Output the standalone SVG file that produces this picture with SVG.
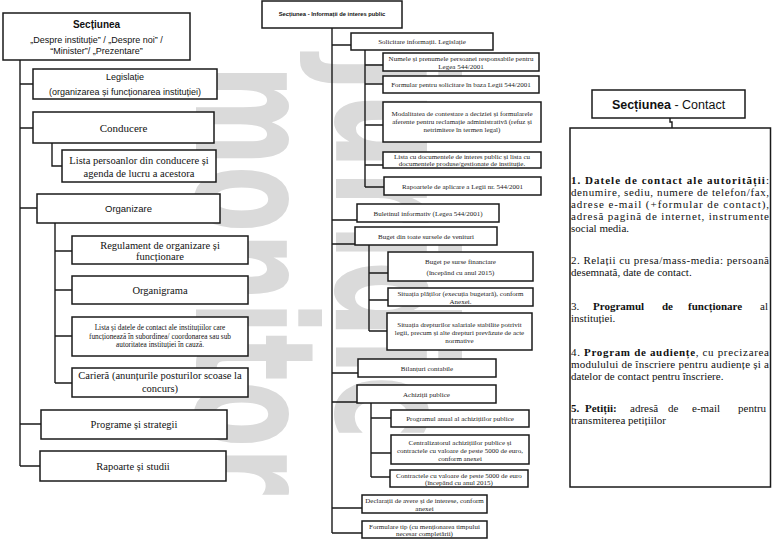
<svg xmlns="http://www.w3.org/2000/svg" width="772" height="540" viewBox="0 0 772 540">
<style>
.bx{fill:#fff;stroke:#1a1a1a;stroke-width:1.5}
.ln{fill:none;stroke:#1a1a1a;stroke-width:1.4}
.wm{font-family:"DejaVu Sans",sans-serif;font-weight:bold;fill:#dadada}
.sa{font-family:"Liberation Sans",Arial,sans-serif;fill:#111;text-anchor:middle}
.se{font-family:"Liberation Serif","Times New Roman",serif;fill:#111;text-anchor:middle}
.m7{font-family:"Liberation Serif","Times New Roman",serif;font-size:7px;fill:#222;text-anchor:middle}
.rt{font-family:"Liberation Serif","Times New Roman",serif;font-size:11px;fill:#111}
.b{font-weight:bold}
</style>
<rect width="772" height="540" fill="#fff"/>
<!-- watermark -->
<g id="watermark">
<text class="wm" font-size="165" transform="translate(196,65) rotate(90)" textLength="430" lengthAdjust="spacingAndGlyphs">monitor</text>
<text class="wm" font-size="165" transform="translate(336,55) rotate(90)" textLength="385" lengthAdjust="spacingAndGlyphs">juridic</text>
</g>
<!-- connectors -->
<g id="connectors">
<path class="ln" d="M20,60V466M20,84H33M20,128H33M20,208H37M20,424H41M20,466H40"/>
<path class="ln" d="M52,143V166H62"/>
<path class="ln" d="M55,223V383M55,251H72M55,290H72M55,336H72M55,383H72"/>
<path class="ln" d="M332,28V533M332,45H351M332,220H357M332,244H355M332,373H358M332,402H357M332,508H362M332,533H362"/>
<path class="ln" d="M365,50V187M365,65H383M365,84H383M365,125H383M365,165H383M365,187H384"/>
<path class="ln" d="M369,245V331M369,273H388M369,300H388M369,331H387"/>
<path class="ln" d="M371,403V477M371,418H391M371,453H391M371,477H390"/>
<path class="ln" d="M670,118V122H672V128"/>
</g>
<!-- left column -->
<g id="n-sectiunea">
<rect class="bx" x="3" y="13" width="187" height="47"/>
<text class="sa b" x="96.5" y="28" font-size="10">Secțiunea</text>
<text class="sa" x="96.5" y="43" font-size="9">„Despre instituție” / „Despre noi” /</text>
<text class="sa" x="96.5" y="54" font-size="9">“Minister”/ „Prezentare”</text>
</g>
<g id="n-legislatie">
<rect class="bx" x="33" y="69" width="184" height="30"/>
<text class="sa" x="125" y="80" font-size="9">Legislație</text>
<text class="sa" x="125" y="95" font-size="9">(organizarea și funcționarea instituției)</text>
</g>
<g id="n-conducere">
<rect class="bx" x="33" y="112" width="181" height="31"/>
<text class="se" x="123.5" y="131.5" font-size="11">Conducere</text>
</g>
<g id="n-lista-pers">
<rect class="bx" x="62" y="150" width="154" height="32"/>
<text class="se" x="139" y="164" font-size="10.5">Lista persoanlor din conducere și</text>
<text class="se" x="139" y="177" font-size="10.5">agenda de lucru a acestora</text>
</g>
<g id="n-organizare">
<rect class="bx" x="37" y="194" width="183" height="29"/>
<text class="sa" x="128.5" y="212" font-size="9.5">Organizare</text>
</g>
<g id="n-regulament">
<rect class="bx" x="72" y="236" width="176" height="28"/>
<text class="se" x="160" y="249" font-size="10.5">Regulament de organizare și</text>
<text class="se" x="160" y="260" font-size="10.5">funcționare</text>
</g>
<g id="n-organigrama">
<rect class="bx" x="72" y="276" width="176" height="28"/>
<text class="se" x="160" y="294" font-size="10.5">Organigrama</text>
</g>
<g id="n-lista-inst">
<rect class="bx" x="72" y="317" width="176" height="39"/>
<text class="se" x="160" y="330" font-size="7.3">Lista și datele de contact ale instituțiilor care</text>
<text class="se" x="160" y="338.5" font-size="7.3">funcționează în subordinea/ coordonarea sau sub</text>
<text class="se" x="160" y="347" font-size="7.3">autoritatea instituției în cauză.</text>
</g>
<g id="n-cariera">
<rect class="bx" x="72" y="368" width="176" height="29"/>
<text class="se" x="160" y="379" font-size="10.5">Carieră (anunțurile posturilor scoase la</text>
<text class="se" x="160" y="392" font-size="10.5">concurs)</text>
</g>
<g id="n-programe">
<rect class="bx" x="41" y="410" width="186" height="29"/>
<text class="se" x="134" y="428" font-size="10.5">Programe și strategii</text>
</g>
<g id="n-rapoarte">
<rect class="bx" x="40" y="451" width="186" height="30"/>
<text class="se" x="133" y="470" font-size="10.5">Rapoarte și studii</text>
</g>
<!-- middle column -->
<g id="n-info">
<rect class="bx" x="262" y="1" width="140" height="27"/>
<text class="sa b" x="332" y="16" font-size="5.8">Secțiunea - Informații de interes public</text>
</g>
<g id="n-solicitare">
<rect class="bx" x="351" y="33" width="142" height="17"/>
<text class="m7" x="422" y="44">Solicitare informații. Legislație</text>
</g>
<g id="n-numele">
<rect class="bx" x="383" y="53" width="156" height="18"/>
<text class="m7" x="461" y="61">Numele și prenumele persoanei responsabile pentru</text>
<text class="m7" x="461" y="68.5">Legea 544/2001</text>
</g>
<g id="n-formular">
<rect class="bx" x="383" y="76" width="156" height="17"/>
<text class="m7" x="461" y="87">Formular pentru solicitare în baza Legii 544/2001</text>
</g>
<g id="n-modalitatea">
<rect class="bx" x="383" y="102" width="158" height="40"/>
<text class="m7" x="462" y="116">Modalitatea de contestare a deciziei și formularele</text>
<text class="m7" x="462" y="124">aferente pentru reclamație administrativă (refuz și</text>
<text class="m7" x="462" y="132">netrimitere în termen legal)</text>
</g>
<g id="n-lista-doc">
<rect class="bx" x="383" y="152" width="158" height="16"/>
<text class="m7" x="462" y="159">Lista cu documentele de interes public și lista cu</text>
<text class="m7" x="462" y="166">documentele produse/gestionate de instituție.</text>
</g>
<g id="n-rapoartele">
<rect class="bx" x="384" y="177" width="157" height="18"/>
<text class="m7" x="462.5" y="188.5">Rapoartele de aplicare a Legii nr. 544/2001</text>
</g>
<g id="n-buletinul">
<rect class="bx" x="357" y="204" width="142" height="18"/>
<text class="m7" x="428" y="215.5">Buletinul informativ  (Legea 544/2001)</text>
</g>
<g id="n-buget">
<rect class="bx" x="355" y="227" width="142" height="18"/>
<text class="m7" x="426" y="238.5">Buget din toate sursele de venituri</text>
</g>
<g id="n-buget-surse">
<rect class="bx" x="388" y="252" width="145" height="29"/>
<text class="m7" x="460.5" y="263.5">Buget pe surse financiare</text>
<text class="m7" x="460.5" y="274.5">(începând cu anul 2015)</text>
</g>
<g id="n-platilor">
<rect class="bx" x="388" y="288" width="145" height="18"/>
<text class="m7" x="460.5" y="296">Situația plăților (execuția bugetară), conform</text>
<text class="m7" x="460.5" y="303.5">Anexei.</text>
</g>
<g id="n-drepturilor">
<rect class="bx" x="387" y="313" width="145" height="37"/>
<text class="m7" x="459.5" y="326.5">Situația drepturilor salariale stabilite potrivit</text>
<text class="m7" x="459.5" y="334.5">legii, precum și alte drepturi prevăzute de acte</text>
<text class="m7" x="459.5" y="342.5">normative</text>
</g>
<g id="n-bilanturi">
<rect class="bx" x="358" y="359" width="138" height="18"/>
<text class="m7" x="427" y="370.5">Bilanțuri contabile</text>
</g>
<g id="n-achizitii">
<rect class="bx" x="357" y="385" width="139" height="18"/>
<text class="m7" x="426.5" y="396.5">Achiziții publice</text>
</g>
<g id="n-programul">
<rect class="bx" x="391" y="410" width="138" height="17"/>
<text class="m7" x="460" y="421">Programul anual al achizițiilor publice</text>
</g>
<g id="n-centralizatorul">
<rect class="bx" x="391" y="435" width="138" height="29"/>
<text class="m7" x="460" y="445">Centralizatorul achizițiilor publice și</text>
<text class="m7" x="460" y="453">contractele cu valoare de peste 5000 de euro,</text>
<text class="m7" x="460" y="461">conform anexei</text>
</g>
<g id="n-contractele">
<rect class="bx" x="390" y="470" width="138" height="17"/>
<text class="m7" x="459" y="477.5">Contractele cu valoare de peste 5000 de euro</text>
<text class="m7" x="459" y="485">(începând cu anul 2015)</text>
</g>
<g id="n-declaratii">
<rect class="bx" x="362" y="495" width="125" height="18"/>
<text class="m7" x="424.5" y="503">Declarații de avere și de interese, conform</text>
<text class="m7" x="424.5" y="511">anexei</text>
</g>
<g id="n-formulare">
<rect class="bx" x="362" y="521" width="125" height="17"/>
<text class="m7" x="424.5" y="528.5">Formulare tip (cu menționarea timpului</text>
<text class="m7" x="424.5" y="536">necesar completării)</text>
</g>
<!-- right column -->
<g id="n-contact">
<rect class="bx" x="592" y="90" width="153" height="28"/>
<text class="sa" x="668.5" y="108.5" font-size="12.5"><tspan font-weight="bold">Secțiunea</tspan> - Contact</text>
</g>
<g id="n-contact-body">
<rect class="bx" x="570" y="128" width="200.5" height="359"/>
<text class="rt" x="571" y="184" textLength="198" lengthAdjust="spacing"><tspan class="b">1. Datele de contact ale autorității</tspan>:</text>
<text class="rt" x="571" y="196" textLength="198" lengthAdjust="spacing">denumire, sediu, numere de telefon/fax,</text>
<text class="rt" x="571" y="208" textLength="198" lengthAdjust="spacing">adrese e-mail (+formular de contact),</text>
<text class="rt" x="571" y="220" textLength="198" lengthAdjust="spacing">adresă pagină de internet, instrumente</text>
<text class="rt" x="571" y="232">social media.</text>
<text class="rt" x="571" y="264" textLength="198" lengthAdjust="spacing">2. Relații cu presa/mass-media: persoană</text>
<text class="rt" x="571" y="276">desemnată, date de contact.</text>
<text class="rt" y="310"><tspan x="571">3.</tspan> <tspan x="593" class="b">Programul</tspan> <tspan x="662" class="b">de</tspan> <tspan x="688" class="b">funcționare</tspan> <tspan x="760">al</tspan></text>
<text class="rt" x="571" y="322">instituției.</text>
<text class="rt" x="571" y="356" textLength="198" lengthAdjust="spacing">4. <tspan class="b">Program de audiențe</tspan>, cu precizarea</text>
<text class="rt" x="571" y="368" textLength="198" lengthAdjust="spacing">modulului de înscriere pentru audiențe și a</text>
<text class="rt" x="571" y="380">datelor de contact pentru înscriere.</text>
<text class="rt" y="412"><tspan x="571" class="b">5.</tspan> <tspan x="585" class="b">Petiții:</tspan> <tspan x="630">adresă</tspan> <tspan x="668">de</tspan> <tspan x="692">e-mail</tspan> <tspan x="738">pentru</tspan></text>
<text class="rt" x="571" y="424">transmiterea petițiilor</text>
</g>
</svg>
